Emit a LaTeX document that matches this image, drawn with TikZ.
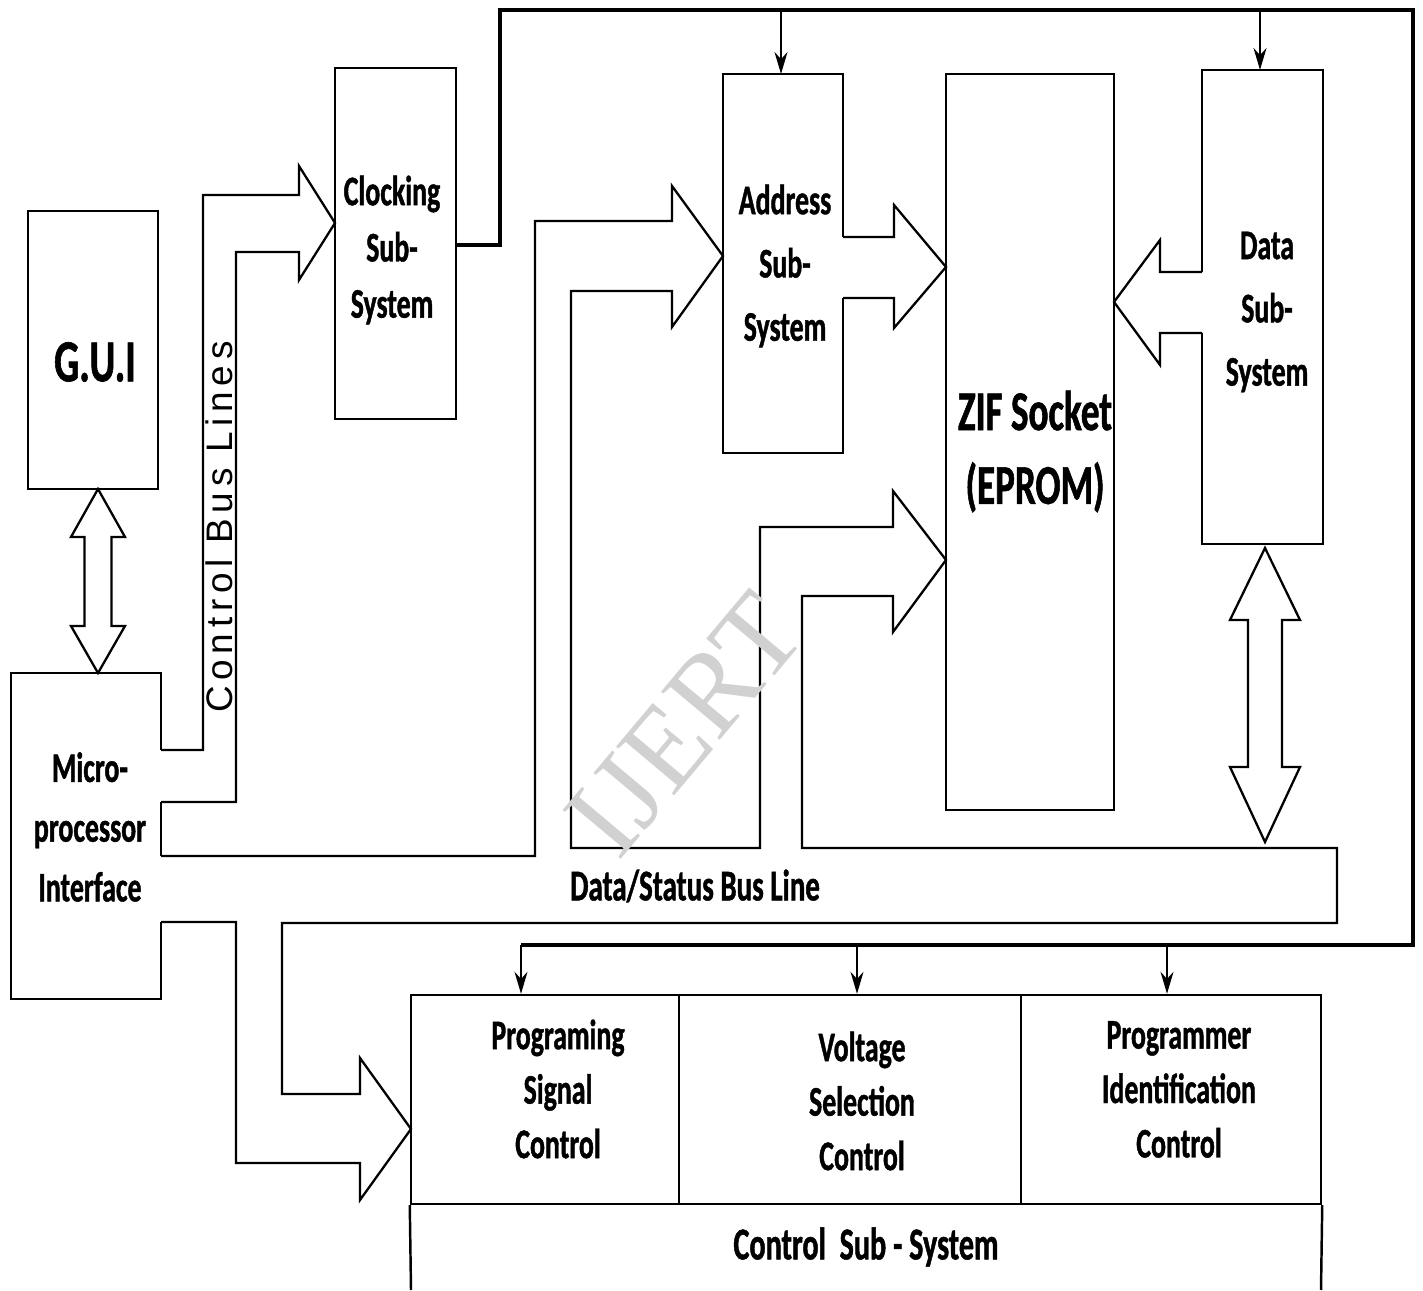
\documentclass[tikz,border=0pt]{standalone}
\usepackage{fontspec}
\setmainfont{Carlito}
\newfontfamily\condfont{Carlito}[FakeStretch=0.66,FakeBold=1]
\newfontfamily\busfont{Liberation Sans}[LetterSpace=15.5]
\newfontfamily\markfont{Liberation Serif}
\usetikzlibrary{arrows.meta}

\tikzset{
    box/.style={draw,line width=0.7pt,inner sep=0pt},
    boxline/.style={line width=0.7pt},
    pipe/.style={line width=0.65pt,line join=miter},
    bus/.style={line width=1.1pt},
    tap/.style={line width=0.5pt,-{Stealth[length=2.2mm,width=1.3mm]}},
    lbl/.style={align=center,inner sep=0pt,
        font=\condfont\bfseries\fontsize{12}{17}\selectfont},
}

\begin{document}
\begin{tikzpicture}[x=1cm,y=1cm]
    \useasboundingbox (0,0) rectangle (14.23,12.90);

    % Bloques principales.
    \node[box,minimum width=1.30cm,minimum height=2.78cm] (gui) at (0.93,9.40) {};
    \node[lbl,font=\condfont\bfseries\fontsize{17}{20}\selectfont]
        (guitxt) at (0.95,9.28) {G.U.I};
    \coordinate (mpi) at (0.86,4.54);
    \node[lbl] (mpitxt) at (0.90,4.63) {Micro-\\processor\\Interface};
    \node[box,minimum width=1.21cm,minimum height=3.51cm] (clk) at (3.955,10.465) {};
    \node[lbl,font=\condfont\bfseries\fontsize{12}{16}\selectfont]
        (clktxt) at (3.92,10.40) {Clocking\\Sub-\\System};
    \coordinate (addr) at (7.83,10.265);
    \node[lbl,font=\condfont\bfseries\fontsize{12}{18}\selectfont]
        (addrtxt) at (7.85,10.24) {Address\\Sub-\\System};
    \node[box,minimum width=1.68cm,minimum height=7.36cm] (zif) at (10.30,8.48) {};
    \node[lbl,font=\condfont\bfseries\fontsize{16}{21}\selectfont]
        (ziftxt) at (10.35,8.385) {ZIF Socket\\(EPROM)};
    \coordinate (dss) at (12.625,9.83);
    \node[lbl,font=\condfont\bfseries\fontsize{12}{18}\selectfont]
        (dsstxt) at (12.67,9.78) {Data\\Sub-\\System};

    % Subsistema de control.
    \node[box,minimum width=2.68cm,minimum height=2.09cm] (prog) at (5.45,1.905) {};
    \node[box,minimum width=3.42cm,minimum height=2.09cm] (volt) at (8.50,1.905) {};
    \node[box,minimum width=3.00cm,minimum height=2.09cm] (pid) at (11.71,1.905) {};
    \node[lbl,font=\condfont\bfseries\fontsize{12}{15.5}\selectfont]
        (progtxt) at (5.58,2.01) {Programing\\Signal\\Control};
    \node[lbl,font=\condfont\bfseries\fontsize{12}{15.5}\selectfont]
        (volttxt) at (8.62,1.89) {Voltage\\Selection\\Control};
    \node[lbl,font=\condfont\bfseries\fontsize{12}{15.5}\selectfont]
        (pidtxt) at (11.79,2.005) {Programmer\\Identification\\Control};
    \node[lbl,font=\condfont\bfseries\fontsize{13}{15}\selectfont]
        (css) at (8.66,0.43) {Control\ \ Sub - System};
    \draw[boxline] (prog.south west) -- (4.11,0);
    \draw[boxline] (pid.south east) -- (13.21,0);

    % Contornos abiertos donde entran los buses.
    \draw[boxline] (1.61,5.40) -- (1.61,6.17) -- (0.11,6.17) -- (0.11,2.91)
        -- (1.61,2.91) -- (1.61,3.68);
    \draw[boxline] (1.61,4.88) -- (1.61,4.34);
    \draw[boxline] (8.43,10.53) -- (8.43,12.16) -- (7.23,12.16) -- (7.23,8.37)
        -- (8.43,8.37) -- (8.43,9.92);
    \draw[boxline] (12.02,10.18) -- (12.02,12.20) -- (13.23,12.20)
        -- (13.23,7.46) -- (12.02,7.46) -- (12.02,9.57);

    % Bus de control.
    \draw[pipe] (1.61,5.40) -- (2.03,5.40) -- (2.03,10.95) -- (2.99,10.95)
        -- (2.99,11.24) -- (3.35,10.67) -- (2.99,10.10) -- (2.99,10.38)
        -- (2.36,10.38) -- (2.36,4.88) -- (1.61,4.88);
    \node[font=\busfont\fontsize{10.5}{12}\selectfont,rotate=90]
        (cbl) at (2.19,7.63) {Control Bus Lines};

    % Bus de datos / estado.
    \draw[pipe] (1.61,4.34) -- (5.35,4.34) -- (5.35,10.69) -- (6.72,10.69)
        -- (6.72,11.04) -- (7.23,10.34) -- (6.72,9.63) -- (6.72,9.99)
        -- (5.71,9.99) -- (5.71,4.42) -- (7.60,4.42) -- (7.60,7.63)
        -- (8.93,7.63) -- (8.93,7.99) -- (9.46,7.30) -- (8.93,6.58)
        -- (8.93,6.94) -- (8.02,6.94) -- (8.02,4.42) -- (13.37,4.42)
        -- (13.37,3.67) -- (2.82,3.67) -- (2.82,1.96) -- (3.60,1.96)
        -- (3.60,2.32) -- (4.11,1.61) -- (3.60,0.90) -- (3.60,1.27)
        -- (2.36,1.27) -- (2.36,3.68) -- (1.61,3.68);
    \node[font=\condfont\bfseries\fontsize{12.5}{15}\selectfont]
        (dsb) at (6.95,4.04) {Data/Status Bus Line};

    % Flechas hacia el zócalo.
    \draw[pipe] (8.43,10.53) -- (8.94,10.53) -- (8.94,10.85) -- (9.46,10.23)
        -- (8.94,9.62) -- (8.94,9.92) -- (8.43,9.92);
    \draw[pipe] (12.02,10.18) -- (11.60,10.18) -- (11.60,10.50) -- (11.14,9.88)
        -- (11.60,9.25) -- (11.60,9.57) -- (12.02,9.57);

    % Flechas dobles.
    \draw[pipe] (0.98,8.01) -- (1.25,7.53) -- (1.115,7.53) -- (1.115,6.64)
        -- (1.25,6.64) -- (0.98,6.17) -- (0.71,6.64) -- (0.845,6.64)
        -- (0.845,7.53) -- (0.71,7.53) -- cycle;
    \draw[pipe] (12.65,7.42) -- (13.00,6.70) -- (12.82,6.70) -- (12.82,5.23)
        -- (13.00,5.23) -- (12.65,4.48) -- (12.30,5.23) -- (12.48,5.23)
        -- (12.48,6.70) -- (12.30,6.70) -- cycle;

    % Bus de sincronismo y sus derivaciones.
    \draw[bus] (clk.east |- 0,10.45) -- (5.00,10.45) -- (5.00,12.80)
        -- (14.13,12.80) -- (14.13,3.45) -- (5.21,3.45);
    \coordinate (t1) at (7.81,12.80);
    \coordinate (t2) at (12.60,12.80);
    \coordinate (t3) at (5.21,3.45);
    \coordinate (t4) at (8.57,3.45);
    \coordinate (t5) at (11.67,3.45);
    \draw[tap] (t1) -- (t1 |- 0,12.16);
    \draw[tap] (t2) -- (t2 |- 0,12.20);
    \draw[tap] (t3) -- (t3 |- prog.north);
    \draw[tap] (t4) -- (t4 |- volt.north);
    \draw[tap] (t5) -- (t5 |- pid.north);

    % Marca de agua.
    \node[font=\markfont\fontsize{33}{35}\selectfont,text=black!18,rotate=50]
        (wm) at (6.85,5.65) {IJERT};
\end{tikzpicture}
\end{document}
